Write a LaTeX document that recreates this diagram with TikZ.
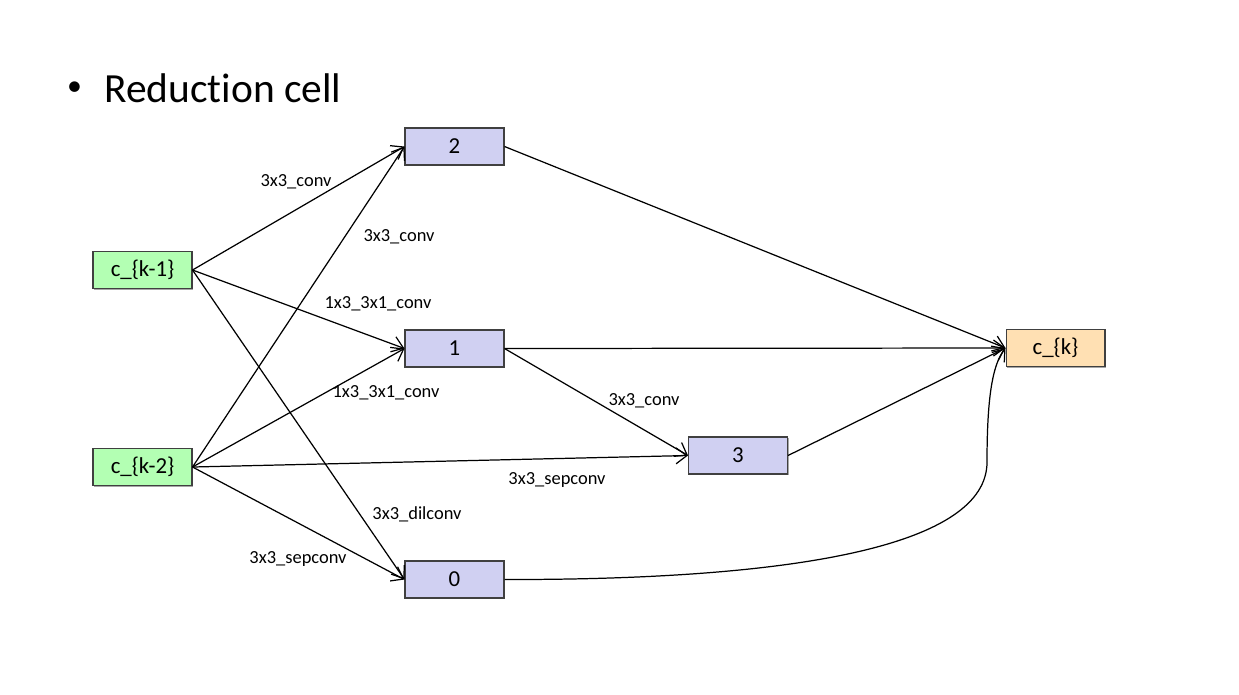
\documentclass[tikz,border=0pt]{standalone}
\usepackage{fontspec}
\setmainfont{Carlito}
\newfontfamily\titlefont[Ligatures=NoCommon]{Carlito}
\usetikzlibrary{arrows.meta,shadows}
\definecolor{boxgreen}{HTML}{B3FFB3}
\definecolor{boxblue}{HTML}{D0D0F2}
\definecolor{boxorange}{HTML}{FFE0B3}
\definecolor{boxline}{HTML}{404040}
\tikzset{
  cellbox/.style={draw=boxline, line width=0.6pt, minimum width=1.98cm, minimum height=0.74cm, inner sep=0pt, font=\fontsize{13}{15}\selectfont,
    drop shadow={shadow xshift=0.6pt, shadow yshift=-0.6pt, opacity=0.35, fill=black}},
  inbox/.style={cellbox, fill=boxgreen},
  midbox/.style={cellbox, fill=boxblue},
  outbox/.style={cellbox, fill=boxorange},
  oplabel/.style={font=\fontsize{10.5}{12}\selectfont, inner sep=0pt},
  edge/.style={draw=black, line width=0.7pt, -{Straight Barb[length=2.2mm, width=3.2mm]}}
}
\begin{document}
\begin{tikzpicture}[x=0.02cm, y=-0.02cm]
\useasboundingbox (0,0) rectangle (1239,694);
\node[font=\fontsize{17}{20}\selectfont, inner sep=0pt] (bullet) at (74.5,89) {\textbullet};
\node[font=\titlefont\fontsize{23.6}{26}\selectfont, anchor=west, inner sep=0pt] (title) at (104,88) {Reduction cell};

\node[inbox] (ck1) at (142.5,270) {c\_\{k-1\}};
\node[inbox] (ck2) at (142.5,467) {c\_\{k-2\}};
\node[midbox] (n2) at (454.5,146.5) {2};
\node[midbox] (n1) at (454.5,348.5) {1};
\node[midbox] (n0) at (454.5,579.5) {0};
\node[midbox] (n3) at (738,455.5) {3};
\node[outbox] (ck) at (1055.5,348) {c\_\{k\}};

\draw[edge] (ck1.east) -- (n2.west);
\draw[edge] (ck2.east) -- (n2.west);
\draw[edge] (ck1.east) -- (n1.west);
\draw[edge] (ck2.east) -- (n1.west);
\draw[edge] (ck1.east) -- (n0.west);
\draw[edge] (ck2.east) -- (n0.west);
\draw[edge] (ck2.east) -- (n3.west);
\draw[edge] (n1.east) -- (n3.west);
\draw[edge] (n2.east) -- (ck.west);
\draw[edge] (n1.east) -- (ck.west);
\draw[edge] (n3.east) -- (ck.west);
\coordinate (bend) at (987,462);
\draw[edge] (n0.east) .. controls (800,580) and (987,545) .. (bend) .. controls (987,400) and (992,365) .. (ck.west);

\node[oplabel] (l1) at (296,182) {3x3\_conv};
\node[oplabel] (l2) at (399,237) {3x3\_conv};
\node[oplabel] (l3) at (378,304) {1x3\_3x1\_conv};
\node[oplabel] (l4) at (386,393) {1x3\_3x1\_conv};
\node[oplabel] (l5) at (417,514) {3x3\_dilconv};
\node[oplabel] (l6) at (298,559) {3x3\_sepconv};
\node[oplabel] (l7) at (557,480) {3x3\_sepconv};
\node[oplabel] (l8) at (644,401) {3x3\_conv};
\end{tikzpicture}
\end{document}
